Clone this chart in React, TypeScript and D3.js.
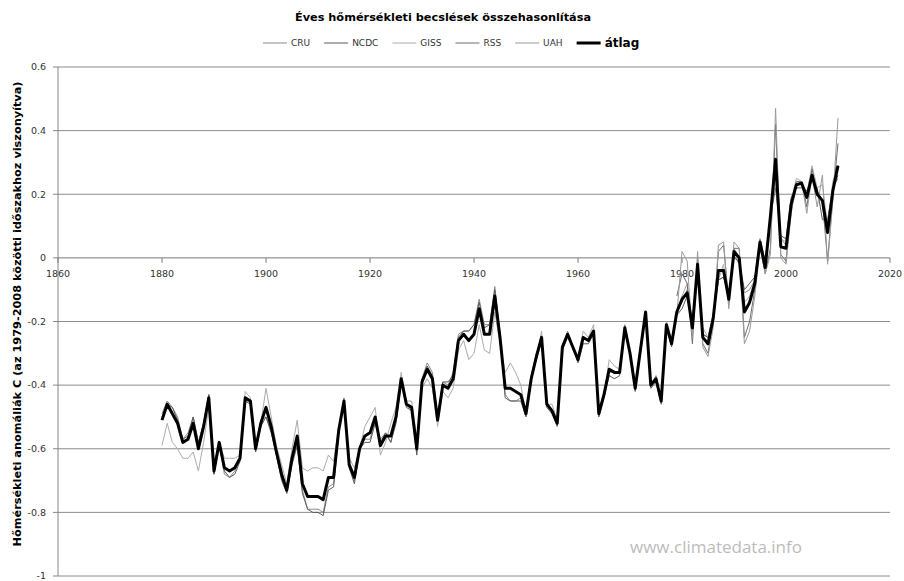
import { useEffect, useRef } from "react";
import * as d3 from "d3";

// years 1880-2010, satellites from 1979
const firstYear = 1880;
const satFirstYear = 1979;

const cru = [
  -0.49, -0.45, -0.47, -0.50, -0.57, -0.55, -0.50, -0.58, -0.52, -0.43,
  -0.68, -0.58, -0.68, -0.69, -0.67, -0.63, -0.45, -0.45, -0.61, -0.51,
  -0.50, -0.54, -0.62, -0.69, -0.74, -0.64, -0.58, -0.73, -0.79, -0.79,
  -0.79, -0.80, -0.72, -0.71, -0.54, -0.44, -0.66, -0.70, -0.60, -0.57,
  -0.57, -0.51, -0.57, -0.55, -0.58, -0.51, -0.39, -0.46, -0.48, -0.61,
  -0.38, -0.33, -0.36, -0.50, -0.39, -0.40, -0.36, -0.24, -0.23, -0.23,
  -0.21, -0.13, -0.21, -0.21, -0.09, -0.24, -0.43, -0.45, -0.45, -0.44,
  -0.48, -0.37, -0.30, -0.26, -0.45, -0.49, -0.52, -0.28, -0.23, -0.28,
  -0.31, -0.25, -0.26, -0.24, -0.48, -0.42, -0.36, -0.36, -0.36, -0.21,
  -0.30, -0.41, -0.29, -0.17, -0.40, -0.37, -0.45, -0.21, -0.27, -0.17,
  -0.14, -0.10, -0.20, -0.02, -0.24, -0.25, -0.18, -0.07, -0.06, -0.12,
  0.01, -0.02, -0.11, -0.10, -0.07, 0.05, -0.03, 0.12, 0.25, 0.06,
  0.04, 0.18, 0.23, 0.23, 0.21, 0.25, 0.21, 0.18, 0.11, 0.22, 0.25,
];

const ncdc = [
  -0.50, -0.46, -0.47, -0.51, -0.57, -0.56, -0.50, -0.58, -0.52, -0.43,
  -0.68, -0.58, -0.67, -0.69, -0.68, -0.64, -0.45, -0.46, -0.61, -0.53,
  -0.50, -0.55, -0.62, -0.70, -0.74, -0.65, -0.59, -0.74, -0.79, -0.80,
  -0.80, -0.81, -0.73, -0.72, -0.55, -0.45, -0.66, -0.71, -0.60, -0.58,
  -0.58, -0.52, -0.58, -0.55, -0.58, -0.52, -0.39, -0.47, -0.48, -0.62,
  -0.38, -0.34, -0.37, -0.50, -0.39, -0.39, -0.37, -0.25, -0.23, -0.23,
  -0.21, -0.14, -0.22, -0.21, -0.10, -0.24, -0.44, -0.45, -0.45, -0.45,
  -0.50, -0.38, -0.32, -0.26, -0.47, -0.49, -0.53, -0.29, -0.25, -0.28,
  -0.33, -0.27, -0.27, -0.24, -0.50, -0.44, -0.37, -0.38, -0.37, -0.23,
  -0.30, -0.42, -0.30, -0.18, -0.41, -0.39, -0.46, -0.22, -0.28, -0.18,
  -0.16, -0.12, -0.21, -0.04, -0.24, -0.25, -0.18, -0.07, -0.06, -0.12,
  0.00, -0.01, -0.10, -0.08, -0.06, 0.06, -0.01, 0.13, 0.22, 0.07,
  0.06, 0.19, 0.22, 0.22, 0.21, 0.25, 0.22, 0.12, 0.12, 0.22, 0.26,
];

const giss = [
  -0.59, -0.52, -0.58, -0.60, -0.63, -0.63, -0.61, -0.67, -0.58, -0.47,
  -0.65, -0.58, -0.63, -0.63, -0.63, -0.62, -0.42, -0.44, -0.58, -0.52,
  -0.41, -0.50, -0.59, -0.65, -0.71, -0.60, -0.51, -0.66, -0.67, -0.66,
  -0.66, -0.67, -0.62, -0.64, -0.53, -0.46, -0.63, -0.66, -0.60, -0.53,
  -0.50, -0.47, -0.62, -0.58, -0.52, -0.47, -0.36, -0.45, -0.45, -0.57,
  -0.41, -0.38, -0.41, -0.53, -0.42, -0.44, -0.41, -0.29, -0.26, -0.32,
  -0.30, -0.21, -0.29, -0.30, -0.17, -0.27, -0.36, -0.33, -0.36, -0.40,
  -0.49, -0.39, -0.31, -0.23, -0.46, -0.46, -0.51, -0.27, -0.24, -0.28,
  -0.32, -0.23, -0.25, -0.21, -0.49, -0.43, -0.32, -0.34, -0.35, -0.22,
  -0.30, -0.41, -0.28, -0.17, -0.39, -0.38, -0.45, -0.20, -0.26, -0.18,
  -0.12, -0.08, -0.22, -0.05, -0.22, -0.25, -0.19, -0.07, -0.02, -0.15,
  0.03, 0.00, -0.14, -0.12, -0.07, 0.06, -0.01, 0.13, 0.24, 0.06,
  0.05, 0.18, 0.25, 0.24, 0.20, 0.29, 0.22, 0.23, 0.10, 0.24, 0.29,
];

const rss = [
  -0.12, -0.05, -0.08, -0.27, 0.00, -0.27, -0.30, -0.20, 0.02, 0.04,
  -0.14, 0.03, 0.03, -0.25, -0.20, -0.10, 0.04, -0.05, 0.03, 0.42,
  0.01, -0.01, 0.15, 0.24, 0.24, 0.16, 0.28, 0.20, 0.18, -0.01,
  0.19, 0.36,
];

const uah = [
  -0.18, 0.02, -0.01, -0.25, 0.02, -0.28, -0.31, -0.22, 0.04, 0.05,
  -0.16, 0.05, 0.03, -0.27, -0.23, -0.12, 0.03, -0.05, 0.01, 0.47,
  0.00, -0.02, 0.14, 0.23, 0.24, 0.14, 0.26, 0.16, 0.26, -0.02,
  0.18, 0.44,
];

const atlag = [
  -0.51, -0.46, -0.49, -0.52, -0.58, -0.57, -0.52, -0.60, -0.53, -0.44,
  -0.67, -0.58, -0.66, -0.67, -0.66, -0.63, -0.44, -0.45, -0.60, -0.52,
  -0.47, -0.53, -0.61, -0.68, -0.73, -0.63, -0.56, -0.71, -0.75, -0.75,
  -0.75, -0.76, -0.69, -0.69, -0.54, -0.45, -0.65, -0.69, -0.60, -0.56,
  -0.55, -0.50, -0.59, -0.56, -0.56, -0.50, -0.38, -0.46, -0.47, -0.60,
  -0.39, -0.35, -0.38, -0.51, -0.40, -0.41, -0.38, -0.26, -0.24, -0.26,
  -0.24, -0.16, -0.24, -0.24, -0.12, -0.25, -0.41, -0.41, -0.42, -0.43,
  -0.49, -0.38, -0.31, -0.25, -0.46, -0.48, -0.52, -0.28, -0.24, -0.28,
  -0.32, -0.25, -0.26, -0.23, -0.49, -0.43, -0.35, -0.36, -0.36, -0.22,
  -0.30, -0.41, -0.29, -0.17, -0.40, -0.38, -0.45, -0.21, -0.27, -0.17,
  -0.13, -0.11, -0.22, -0.02, -0.25, -0.27, -0.19, -0.04, -0.04, -0.13,
  0.02, 0.00, -0.17, -0.14, -0.08, 0.05, -0.03, 0.13, 0.31, 0.035,
  0.03, 0.17, 0.23, 0.235, 0.19, 0.26, 0.20, 0.18, 0.08, 0.21, 0.29,
];

const xTicks = [1860, 1880, 1900, 1920, 1940, 1960, 1980, 2000, 2020];
const yTicks = [-1, -0.8, -0.6, -0.4, -0.2, 0, 0.2, 0.4, 0.6];

const series = [
  { name: "CRU", values: cru, start: firstYear, color: "#8a8a8a", width: 1 },
  { name: "NCDC", values: ncdc, start: firstYear, color: "#5a5a5a", width: 1 },
  { name: "GISS", values: giss, start: firstYear, color: "#acacac", width: 1 },
  { name: "RSS", values: rss, start: satFirstYear, color: "#6e6e6e", width: 1 },
  { name: "UAH", values: uah, start: satFirstYear, color: "#9a9a9a", width: 1 },
  { name: "átlag", values: atlag, start: firstYear, color: "#000", width: 3 },
];

const title = "Éves hőmérsékleti becslések összehasonlítása";
const yTitle = "Hőmérsékleti anomáliák C (az 1979-2008 közötti időszakhoz viszonyítva)";
const watermark = "www.climatedata.info";

const FONT = "'DejaVu Sans', sans-serif";

const App = () => {
  const ref: any = useRef<SVGSVGElement>(null);

  useEffect(() => {
    const W = 904;
    const H = 581;
    const svg = d3.select(ref.current);
    svg.selectAll("*").remove();
    svg.attr("width", W).attr("height", H);

    const x = d3.scaleLinear().domain([1860, 2020]).range([58, 890]);
    const y = d3.scaleLinear().domain([-1, 0.6]).range([576, 67]);

    // gridlines
    svg
      .append("g")
      .selectAll("line")
      .data(yTicks.filter((d) => d !== 0))
      .join("line")
      .attr("x1", x(1860))
      .attr("x2", x(2020))
      .attr("y1", (d) => y(d))
      .attr("y2", (d) => y(d))
      .attr("stroke", "#8c8c8c")
      .attr("stroke-width", 1);

    // y axis
    const yAxis = svg.append("g");
    yAxis
      .append("line")
      .attr("x1", x(1860))
      .attr("x2", x(1860))
      .attr("y1", y(0.6))
      .attr("y2", y(-1))
      .attr("stroke", "#868686");
    yAxis
      .selectAll("line.tick")
      .data(yTicks)
      .join("line")
      .attr("class", "tick")
      .attr("x1", x(1860) - 5)
      .attr("x2", x(1860))
      .attr("y1", (d) => y(d))
      .attr("y2", (d) => y(d))
      .attr("stroke", "#868686");
    yAxis
      .selectAll("text")
      .data(yTicks)
      .join("text")
      .attr("x", 46)
      .attr("y", (d) => y(d))
      .attr("dy", "0.35em")
      .attr("text-anchor", "end")
      .attr("font-family", FONT)
      .attr("font-size", 9.5)
      .attr("fill", "#333")
      .text((d) => String(+d.toFixed(1)));

    // x axis on zero
    const xAxis = svg.append("g");
    xAxis
      .append("line")
      .attr("x1", x(1860))
      .attr("x2", x(2020))
      .attr("y1", y(0))
      .attr("y2", y(0))
      .attr("stroke", "#7a7a7a");
    xAxis
      .selectAll("line.tick")
      .data(xTicks)
      .join("line")
      .attr("class", "tick")
      .attr("x1", (d) => x(d))
      .attr("x2", (d) => x(d))
      .attr("y1", y(0))
      .attr("y2", y(0) + 5)
      .attr("stroke", "#7a7a7a");
    xAxis
      .selectAll("text")
      .data(xTicks)
      .join("text")
      .attr("x", (d) => x(d))
      .attr("y", y(0) + 19)
      .attr("text-anchor", "middle")
      .attr("font-family", FONT)
      .attr("font-size", 9.5)
      .attr("fill", "#333")
      .text((d) => d);

    // lines
    const line = d3
      .line<[number, number]>()
      .x((d) => x(d[0]))
      .y((d) => y(d[1]));

    svg
      .append("g")
      .selectAll("path")
      .data(series)
      .join("path")
      .attr("d", (s) => line(s.values.map((v, i) => [s.start + i, v] as [number, number])))
      .attr("fill", "none")
      .attr("stroke", (s) => s.color)
      .attr("stroke-width", (s) => s.width)
      .attr("stroke-linejoin", "round");

    // title
    svg
      .append("text")
      .attr("x", 443)
      .attr("y", 21)
      .attr("text-anchor", "middle")
      .attr("font-family", FONT)
      .attr("font-weight", "bold")
      .attr("font-size", 11.3)
      .attr("fill", "#000")
      .text(title);

    // legend
    const legend = svg.append("g");
    let lx = 263;
    const ly = 43;
    series.forEach((s) => {
      const bold = s.name === "átlag";
      legend
        .append("line")
        .attr("x1", lx)
        .attr("x2", lx + 24)
        .attr("y1", ly)
        .attr("y2", ly)
        .attr("stroke", s.color)
        .attr("stroke-width", s.width);
      const t = legend
        .append("text")
        .attr("x", lx + 28)
        .attr("y", ly)
        .attr("dy", "0.35em")
        .attr("font-family", FONT)
        .attr("font-size", bold ? 12 : 9)
        .attr("font-weight", bold ? "bold" : "normal")
        .attr("fill", bold ? "#000" : "#333")
        .text(s.name);
      const tw = (t.node() as SVGTextElement).getComputedTextLength();
      lx = lx + 28 + tw + 14;
    });

    // y title
    svg
      .append("text")
      .attr("transform", `translate(21,314) rotate(-90)`)
      .attr("text-anchor", "middle")
      .attr("font-family", FONT)
      .attr("font-weight", "bold")
      .attr("font-size", 11.3)
      .attr("fill", "#000")
      .text(yTitle);

    // watermark
    svg
      .append("text")
      .attr("x", 716)
      .attr("y", 553)
      .attr("text-anchor", "middle")
      .attr("font-family", "'Open Sans', sans-serif")
      .attr("font-size", 17)
      .attr("fill", "#bcbcbc")
      .text(watermark);
  }, []);

  return (
    <svg
      ref={ref}
      style={{ position: "absolute", left: 0, top: 0, display: "block", background: "#fff" }}
    />
  );
};

export default App;
